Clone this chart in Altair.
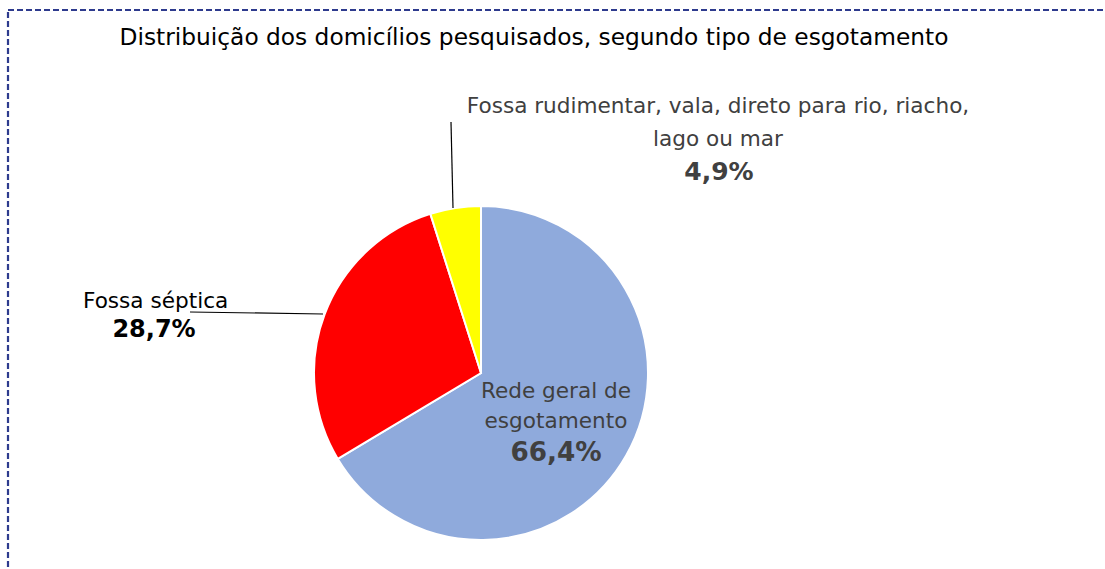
import altair as alt
import pandas as pd

# ---- data ----
categories = ["Rede geral de esgotamento", "Fossa séptica",
              "Fossa rudimentar, vala, direto para rio, riacho, lago ou mar"]
values = [66.4, 28.7, 4.9]
colors = ["#8FAADC", "#FF0000", "#FFFF00"]
title_text = "Distribuição dos domicílios pesquisados, segundo tipo de esgotamento"

def pct(v):
    return f"{v:.1f}".replace(".", ",") + "%"

df = pd.DataFrame({"cat": categories, "val": values, "order": [0, 1, 2]})

FONT = "DejaVu Sans"
W, H = 1105, 569
CX, CY, R = 481, 373, 167

pie = alt.Chart(df).mark_arc(outerRadius=R, stroke="white", strokeWidth=2).encode(
    theta=alt.Theta("val:Q", stack=True),
    order=alt.Order("order:Q"),
    color=alt.Color("cat:N", scale=alt.Scale(domain=categories, range=colors), legend=None),
    x=alt.value(CX), y=alt.value(CY),
)

one = alt.Data(values=[{"a": 1}])

def txt(text, x, y, size=21.6, bold=False, color="#404040", align="center"):
    return alt.Chart(one).mark_text(
        text=text, font=FONT, fontSize=size, fontWeight="bold" if bold else "normal",
        color=color, align=align, baseline="middle",
    ).encode(x=alt.value(x), y=alt.value(y))

def line(x1, y1, x2, y2):
    return alt.Chart(one).mark_rule(color="black", strokeWidth=1.2).encode(
        x=alt.value(x1), y=alt.value(y1), x2=alt.value(x2), y2=alt.value(y2))

border = alt.Chart(one).mark_rect(
    fill=None, stroke="#2E3B8E", strokeWidth=2.2, strokeDash=[6, 3]
).encode(x=alt.value(8), y=alt.value(10), x2=alt.value(W + 20), y2=alt.value(H + 20))

layers = [
    border,
    pie,
    line(190, 312, 323, 314),
    line(451, 122, 453, 208),
    txt(title_text, 534, 38, size=23.3, color="black"),
    txt("Fossa rudimentar, vala, direto para rio, riacho,", 718, 107),
    txt("lago ou mar", 718, 140),
    txt(pct(values[2]), 719, 172, size=25, bold=True),
    txt("Fossa séptica", 83, 302, color="black", align="left"),
    txt(pct(values[1]), 154, 330, size=24, bold=True, color="black"),
    txt("Rede geral de", 556, 392),
    txt("esgotamento", 556, 422),
    txt(pct(values[0]), 556, 453, size=26.3, bold=True),
]

chart = alt.layer(*layers).properties(
    width=W, height=H, padding=0, autosize=alt.AutoSizeParams(type="none"),
    background="white",
).configure_view(stroke=None)

chart.save("out.html", embed_options={"renderer": "svg", "actions": False})
